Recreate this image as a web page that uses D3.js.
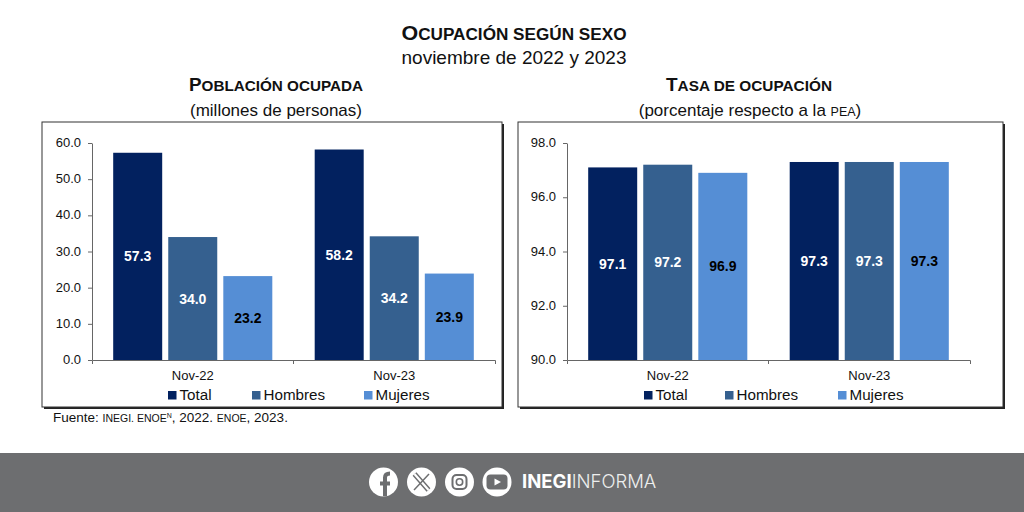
<!DOCTYPE html>
<html>
<head>
<meta charset="utf-8">
<title>Ocupación según sexo</title>
<script src="https://d3js.org/d3.v7.min.js"></script>
<style>
* { margin: 0; padding: 0; }
body { background: #fff; width: 1024px; height: 512px; overflow: hidden; }
text { font-family: "Liberation Sans", Arial, sans-serif; fill: #111; }
</style>
</head>
<body>
<svg id="canvas" width="1024" height="512"></svg>
<script>
var periods = ["Nov-22", "Nov-23"];
var seriesNames = ["Total", "Hombres", "Mujeres"];
var seriesColors = ["#02215f", "#35608f", "#558ed5"];
var labelColors = ["#fff", "#fff", "#000"];

var poblacion = [[57.3, 34.0, 23.2], [58.2, 34.2, 23.9]];
var tasa = [[97.1, 97.2, 96.9], [97.3, 97.3, 97.3]];
var poblacionTicks = [0, 10, 20, 30, 40, 50, 60];
var tasaTicks = [90, 92, 94, 96, 98];

var svg = d3.select("#canvas");

function addText(x, y, str, size, weight) {
	return svg.append("text")
		.attr("x", x).attr("y", y)
		.attr("text-anchor", "middle")
		.attr("font-size", size)
		.attr("font-weight", weight || "normal")
		.text(str);
}

// heading with a big first letter and smaller capitals after it
function addHeading(x, y, first, rest, big, small) {
	var t = addText(x, y, null, big, "bold");
	t.append("tspan").text(first);
	t.append("tspan").attr("font-size", small).text(rest);
	return t;
}

// draws one boxed panel
function drawPanel(opts) {
	var box = opts.box;
	svg.append("rect").attr("x", box[0] + 2).attr("y", box[1] + 2)
		.attr("width", box[2] - box[0]).attr("height", box[3] - box[1]).attr("fill", "#222");
	svg.append("rect").attr("x", box[0]).attr("y", box[1])
		.attr("width", box[2] - box[0]).attr("height", box[3] - box[1])
		.attr("fill", "#fff").attr("stroke", "#333").attr("stroke-width", 1);

	var y = d3.scaleLinear().domain(opts.domain).range([360, 143]);
	var x0 = d3.scaleBand().domain(periods).range(opts.xRange);
	var x1 = d3.scaleBand().domain(seriesNames).range([0, x0.bandwidth()])
		.paddingInner(0.11).paddingOuter(0.385);

	var groups = svg.selectAll(null).data(opts.values).enter().append("g")
		.attr("transform", function (d, i) { return "translate(" + x0(periods[i]) + ",0)"; });

	groups.selectAll("rect").data(function (d) { return d; }).enter().append("rect")
		.attr("x", function (d, i) { return x1(seriesNames[i]); })
		.attr("y", function (d) { return y(d); })
		.attr("width", x1.bandwidth())
		.attr("height", function (d) { return 360 - y(d); })
		.attr("fill", function (d, i) { return seriesColors[i]; });

	groups.selectAll("text").data(function (d) { return d; }).enter().append("text")
		.attr("x", function (d, i) { return x1(seriesNames[i]) + x1.bandwidth() / 2; })
		.attr("y", function (d) { return (y(d) + 360) / 2 + 5; })
		.attr("text-anchor", "middle")
		.attr("font-size", 14)
		.attr("font-weight", "bold")
		.style("fill", function (d, i) { return labelColors[i]; })
		.text(function (d) { return d.toFixed(1); });

	var yAxis = svg.append("g").attr("transform", "translate(" + opts.xRange[0] + ",0)")
		.call(d3.axisLeft(y).tickValues(opts.ticks).tickSize(4).tickSizeOuter(0).tickFormat(d3.format(".1f")));
	var xAxis = svg.append("g").attr("transform", "translate(0,360)")
		.call(d3.axisBottom(x0).tickSize(4).tickSizeOuter(4));
	xAxis.selectAll(".tick line").remove();
	xAxis.selectAll("text").attr("font-size", 13).attr("dy", 0).attr("y", 20);
	yAxis.selectAll("text").attr("font-size", 13).attr("x", -11).attr("dy", "0.28em");
	yAxis.selectAll("text").style("font-family", "Liberation Sans");
	xAxis.selectAll("text").style("font-family", "Liberation Sans");
	[yAxis, xAxis].forEach(function (a) { a.selectAll("path,line").attr("stroke", "#666"); });
	// boundary tick between the periods
	svg.append("line").attr("x1", x0(periods[1])).attr("x2", x0(periods[1]))
		.attr("y1", 360).attr("y2", 364).attr("stroke", "#666");

	// legend
	seriesNames.forEach(function (name, i) {
		var lx = opts.legendX[i];
		svg.append("rect").attr("x", lx).attr("y", 391).attr("width", 8.5).attr("height", 8.5)
			.attr("fill", seriesColors[i]);
		svg.append("text").attr("x", lx + 11.5).attr("y", 400).attr("font-size", 15.2).text(name);
	});
}

addHeading(514, 40, "O", "CUPACIÓN SEGÚN SEXO", 20, 16).attr("textLength", 225).attr("lengthAdjust", "spacingAndGlyphs");
addText(514, 64, "noviembre de 2022 y 2023", 19);
addHeading(276, 91, "P", "OBLACIÓN OCUPADA", 18.5, 15).attr("textLength", 174).attr("lengthAdjust", "spacingAndGlyphs");
addText(276, 116, "(millones de personas)", 17);
addHeading(749, 91, "T", "ASA DE OCUPACIÓN", 18.5, 15).attr("textLength", 166).attr("lengthAdjust", "spacingAndGlyphs");
var sub = addText(750, 116, null, 17);
sub.append("tspan").text("(porcentaje respecto a la ");
sub.append("tspan").attr("font-size", 12.5).text("PEA");
sub.append("tspan").text(")");

drawPanel({ box: [42, 122, 502, 407], domain: [0, 60], ticks: poblacionTicks, values: poblacion,
	xRange: [92, 495], legendX: [168, 252, 364] });
drawPanel({ box: [518, 122, 1003, 407], domain: [90, 98], ticks: tasaTicks, values: tasa,
	xRange: [567, 970], legendX: [644, 725, 838] });

var fuente = svg.append("text").attr("x", 53).attr("y", 422).attr("font-size", 13.5);
fuente.append("tspan").text("Fuente: ");
fuente.append("tspan").attr("font-size", 10.5).text("INEGI. ENOE");
fuente.append("tspan").attr("font-size", 7).attr("dy", -4).text("N");
fuente.append("tspan").attr("dy", 4).text(", 2022. ");
fuente.append("tspan").attr("font-size", 10.5).text("ENOE");
fuente.append("tspan").text(", 2023.");

// footer band with the social icons
var footerGray = "#6d6e70";
svg.append("rect").attr("x", 0).attr("y", 453).attr("width", 1024).attr("height", 59).attr("fill", footerGray);
var iconX = [383.5, 421.5, 459.5, 497];
iconX.forEach(function (cx) {
	svg.append("circle").attr("cx", cx).attr("cy", 482).attr("r", 14.5).attr("fill", "#fff");
});
// f, running off the bottom of its circle
svg.append("path").attr("d", "M385 496.3 L385 477.5 Q385 473.5 390 473.5 M380 483.5 L390 483.5")
	.attr("fill", "none").attr("stroke", footerGray).attr("stroke-width", 4);
// X mark, one outlined stroke and one thin one
svg.append("path").attr("d", "M414.5 474 L428.5 490").attr("stroke", footerGray).attr("stroke-width", 5);
svg.append("path").attr("d", "M414.5 474 L428.5 490").attr("stroke", "#fff").attr("stroke-width", 2.2);
svg.append("path").attr("d", "M429 474 L414 490").attr("stroke", footerGray).attr("stroke-width", 1.5);
svg.append("rect").attr("x", 452.5).attr("y", 475).attr("width", 14).attr("height", 14).attr("rx", 4)
	.attr("fill", "none").attr("stroke", footerGray).attr("stroke-width", 2);
svg.append("circle").attr("cx", 459.5).attr("cy", 482).attr("r", 3.2)
	.attr("fill", "none").attr("stroke", footerGray).attr("stroke-width", 1.6);
svg.append("rect").attr("x", 486.5).attr("y", 474.5).attr("width", 21).attr("height", 15).attr("rx", 4).attr("fill", footerGray);
svg.append("path").attr("d", "M494.5 478.5 L494.5 485.5 L501 482 Z").attr("fill", "#fff");

var brand = svg.append("text").attr("x", 522).attr("y", 488).attr("font-size", 18.5)
	.style("font-family", "Inter, 'Liberation Sans'");
brand.append("tspan").attr("font-weight", "bold").style("fill", "#fff").text("INEGI");
brand.append("tspan").attr("font-weight", 300).style("fill", "#eee").text("INFORMA");
</script>
</body>
</html>
